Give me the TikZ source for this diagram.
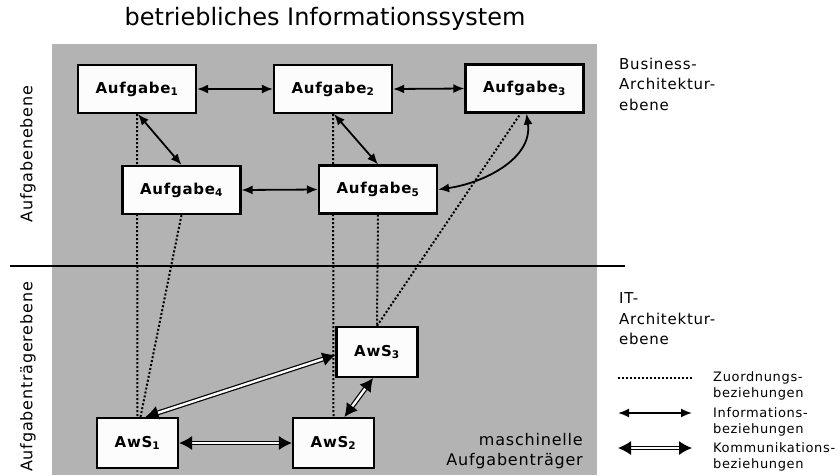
\documentclass[tikz,border=0pt]{standalone}
\usepackage{fontspec}
\setmainfont{DejaVu Sans}
\newfontfamily\spaced[LetterSpace=5]{DejaVu Sans}
\usetikzlibrary{arrows.meta,backgrounds}
\definecolor{plane}{HTML}{B3B3B3}
\definecolor{boxfill}{HTML}{FCFCFC}
\tikzset{
  taskbox/.style={draw=black, line width=2.2pt, fill=boxfill, inner sep=0pt,
    minimum width=118pt, minimum height=48pt,
    font=\spaced\fontsize{15}{18}\selectfont\bfseries},
  awsbox/.style={taskbox, minimum width=81pt, minimum height=50pt},
  assign/.style={line width=2pt, dash pattern=on 2pt off 2pt},
  info/.style={line width=1.8pt, {Latex[length=11pt,width=9pt]}-{Latex[length=11pt,width=9pt]}},
  comm/.style={line width=1.2pt, double=boxfill, double distance=2.4pt,
    {Latex[length=13pt,width=14pt]}-{Latex[length=13pt,width=14pt]}},
  sidetext/.style={inner sep=0pt, align=left, anchor=north west,
    font=\spaced\fontsize{15}{20.5}\selectfont},
  legendtext/.style={inner sep=0pt, align=left, anchor=north west,
    font=\spaced\fontsize{13}{16.5}\selectfont},
  layertext/.style={inner sep=0pt, rotate=90, font=\spaced\fontsize{16}{18}\selectfont}
}
\begin{document}
\begin{tikzpicture}[x=1pt, y=-1pt]
\useasboundingbox (0,0) rectangle (840,475);

\node[inner sep=0pt, font=\fontsize{24}{28}\selectfont] (title) at (325,19) {betriebliches Informationssystem};

% task layer
\node[taskbox] (A1) at (137,89) {Aufgabe\textsubscript{1}};
\node[taskbox] (A2) at (333,89) {Aufgabe\textsubscript{2}};
\node[taskbox] (A3) at (524.5,88.5) {Aufgabe\textsubscript{3}};
\node[taskbox] (A4) at (181.5,190) {Aufgabe\textsubscript{4}};
\node[taskbox] (A5) at (378,189.5) {Aufgabe\textsubscript{5}};

% application systems
\node[awsbox] (S1) at (137.5,443) {AwS\textsubscript{1}};
\node[awsbox] (S2) at (333.5,443) {AwS\textsubscript{2}};
\node[awsbox] (S3) at (377,352) {AwS\textsubscript{3}};

\begin{scope}[on background layer]
  % shaded plane of the information system
  \fill[plane] (52,44) rectangle (597,475);
  % divider between the two layers
  \draw[line width=2pt] (10,266) -- (625,266);
  % assignments, running behind the boxes
  \draw[assign] (A1.south) -- (S1.north);
  \draw[assign] (A4.south) -- ([xshift=3pt]S1.north);
  \draw[assign] (A2.south) -- (S2.north);
  \draw[assign] (A5.south) -- (S3.north);
  \draw[assign] (S3.north) -- ([xshift=-4pt]A3.south);
\end{scope}

% information relations
\draw[info] (A1.east) -- (A2.west);
\draw[info] (A2.east) -- (A3.west);
\draw[info] (A4.east) -- (A5.west);
\draw[info] ([xshift=1pt]A1.south) -- (A4.north);
\draw[info] ([xshift=1pt]A2.south) -- (A5.north);
\draw[info] (A5.east) to[out=8, in=-82] ([xshift=2pt]A3.south);

% communication relations
\draw[comm] (S1.east) -- (S2.west);
\draw[comm] ([xshift=8pt]S1.north) -- ([yshift=-3pt]S3.west);
\draw[comm] ([xshift=11pt]S2.north) -- ([xshift=-4pt]S3.south);

% layer names
\node[layertext] (lt) at (28,154) {Aufgabenebene};
\node[layertext] (lb) at (28,377) {Aufgabenträgerebene};
\node[sidetext] (bus) at (619,57.5) {Business-\\Architektur-\\ebene};
\node[sidetext] (it) at (619,292.5) {IT-\\Architektur-\\ebene};
\node[inner sep=0pt, align=right, anchor=north east, font=\spaced\fontsize{16}{20}\selectfont] (mach) at (583,433) {maschinelle\\Aufgabenträger};

% legend
\coordinate (z1) at (618,378); \coordinate (z2) at (692,378);
\coordinate (i1) at (618,413); \coordinate (i2) at (692,413);
\coordinate (k1) at (618,448); \coordinate (k2) at (692,448);
\draw[assign] (z1) -- (z2);
\draw[info] (i1) -- (i2);
\draw[comm] (k1) -- (k2);
\node[legendtext] (lz) at (713,371) {Zuordnungs-\\beziehungen};
\node[legendtext] (li) at (713,407) {Informations-\\beziehungen};
\node[legendtext] (lk) at (713,442) {Kommunikations-\\beziehungen};
\end{tikzpicture}
\end{document}
